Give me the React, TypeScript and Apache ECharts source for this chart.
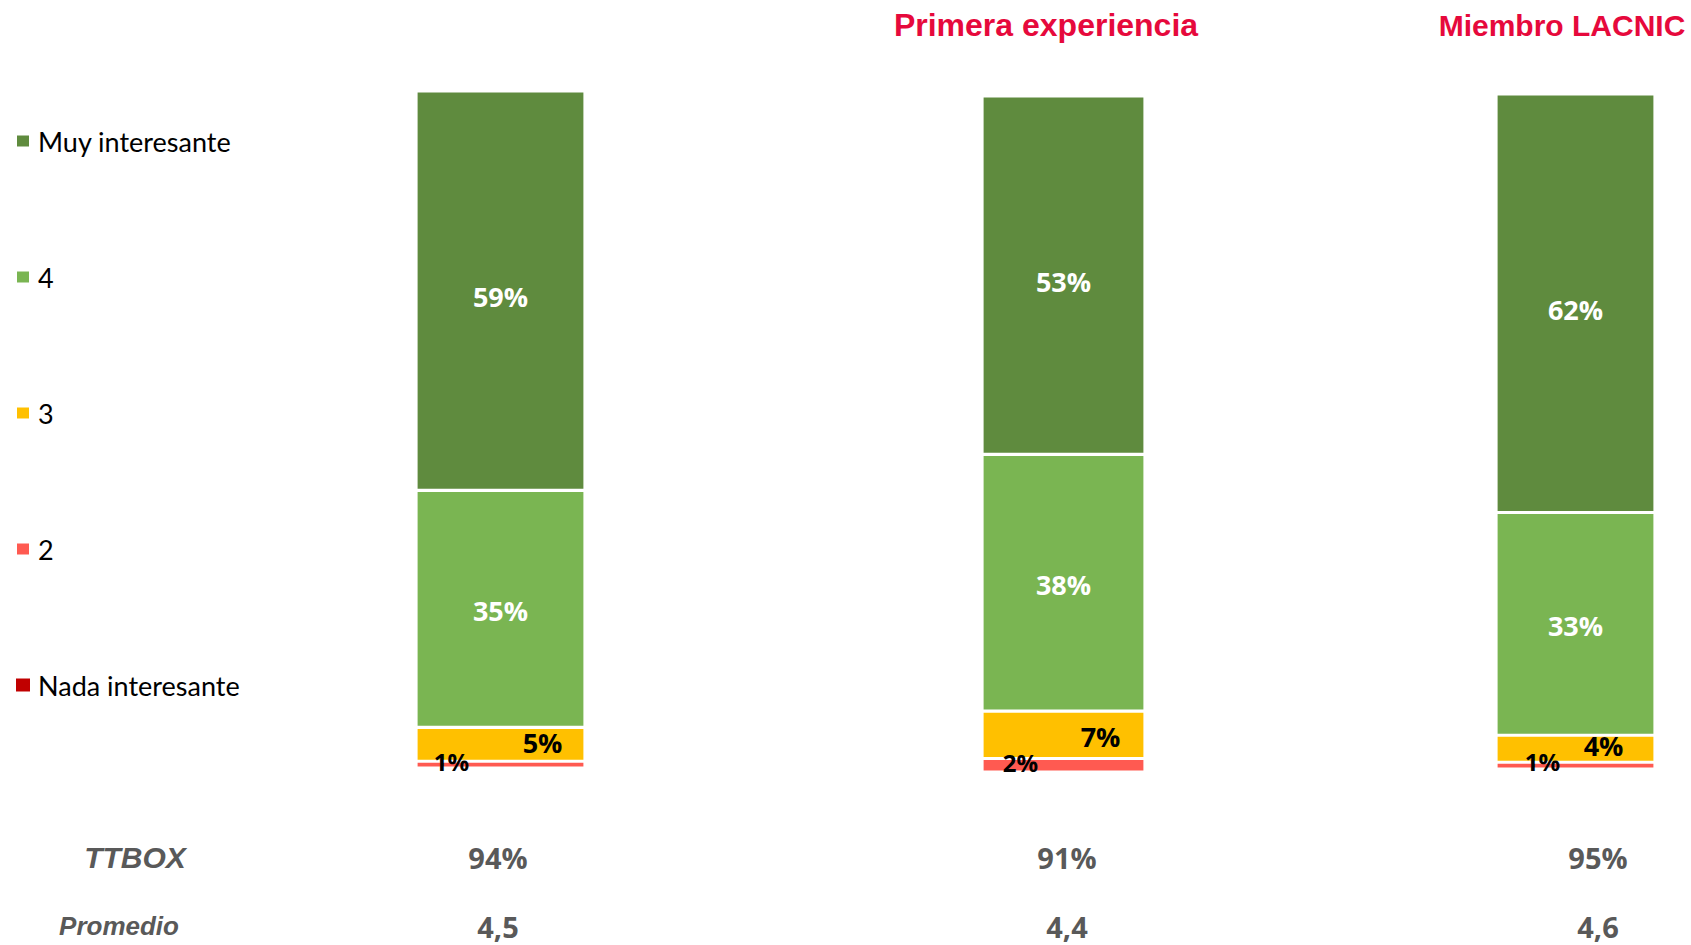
import React, { useEffect, useRef } from "react";
import * as echarts from "echarts";

const groups = ["Total", "Primera experiencia", "Miembro LACNIC"];
const groupTitles = ["", "Primera experiencia", "Miembro LACNIC"];
const seriesNames = ["Nada interesante", "2", "3", "4", "Muy interesante"];
const nada = [0, 0, 0];
const dos = [1, 2, 1];
const tres = [5, 7, 4];
const cuatro = [35, 38, 33];
const muy = [59, 53, 62];
const ttbox = ["94%", "91%", "95%"];
const promedio = ["4,5", "4,4", "4,6"];
const rowLabels = ["TTBOX", "Promedio"];

const colors = ["#C00000", "#FF5A51", "#FFC000", "#7AB552", "#5F8B3E"];

// layout (pixels)
const grids = [
  { left: 416, width: 169, top: 91, height: 677 },
  { left: 982, width: 163, top: 96, height: 676 },
  { left: 1496, width: 159, top: 94, height: 675 },
];
const yellowOffsets = [[42, -2], [37, 2], [28, -3]];
const redOffsets = [[-49, -3], [-43, -3], [-33, -4]];
const titleX = [0, 1046, 1562];
const titleSize = [0, 32, 30];
const valueX = [498, 1067, 1598];

export default function App() {
  const ref = useRef<HTMLDivElement>(null);
  useEffect(() => {
    if (!ref.current) return;
    const chart = echarts.init(ref.current, null, { renderer: "svg" });
    const allData = [nada, dos, tres, cuatro, muy];
    const series: any[] = [];
    groups.forEach((g, gi) => {
      allData.forEach((arr, si) => {
        let label: any = { show: false };
        if (si === 4 || si === 3) {
          label = {
            show: true,
            position: "inside",
            formatter: "{c}%",
            color: "#FFFFFF",
            fontFamily: "Open Sans",
            fontWeight: "bold",
            fontSize: 27,
            offset: si === 4 ? [0, 6] : [0, 2],
          };
        } else if (si === 2) {
          label = {
            show: true,
            position: "inside",
            formatter: "{c}%",
            color: "#000000",
            fontFamily: "Open Sans",
            fontWeight: "bold",
            fontSize: 27,
            offset: yellowOffsets[gi],
          };
        } else if (si === 1) {
          label = {
            show: true,
            position: "inside",
            formatter: "{c}%",
            color: "#000000",
            fontFamily: "Open Sans",
            fontWeight: "bold",
            fontSize: 24,
            offset: redOffsets[gi],
          };
        }
        series.push({
          type: "bar",
          name: seriesNames[si],
          xAxisIndex: gi,
          yAxisIndex: gi,
          stack: "g" + gi,
          barWidth: "100%",
          data: [arr[gi]],
          itemStyle: {
            color: colors[si],
            borderColor: "#FFFFFF",
            borderWidth: si === 0 ? 0 : 1.6,
          },
          label,
          emphasis: { disabled: true },
        });
      });
    });

    const graphics: any[] = [];
    groupTitles.forEach((t, i) => {
      if (!t) return;
      graphics.push({
        type: "text",
        x: titleX[i],
        y: 25,
        style: {
          text: t,
          fill: "#E6093C",
          font: "bold " + titleSize[i] + "px 'Liberation Sans'",
          align: "center",
          verticalAlign: "middle",
        },
      });
    });
    const rowY = [857, 926];
    const rowX = [135, 119];
    const rowSize = [30, 26];
    rowLabels.forEach((t, i) => {
      graphics.push({
        type: "text",
        x: rowX[i],
        y: rowY[i],
        style: {
          text: t,
          fill: "#595959",
          font: "italic bold " + rowSize[i] + "px 'Liberation Sans'",
          align: "center",
          verticalAlign: "middle",
        },
      });
    });
    [ttbox, promedio].forEach((arr, ri) => {
      arr.forEach((v, i) => {
        graphics.push({
          type: "text",
          x: valueX[i],
          y: rowY[ri],
          style: {
            text: v,
            fill: "#595959",
            font: "bold 29px 'Open Sans'",
            align: "center",
            verticalAlign: "middle",
          },
        });
      });
    });

    chart.setOption({
      animation: false,
      legend: {
        orient: "vertical",
        left: 15,
        top: 126,
        padding: 0,
        data: ["Muy interesante", "4", "3", "2", "Nada interesante"],
        icon: "rect",
        itemWidth: 14,
        itemHeight: 13,
        itemGap: 106,
        selectedMode: false,
        textStyle: {
          fontFamily: "Lato",
          fontSize: 27,
          lineHeight: 30,
          color: "#000000",
          padding: [0, 0, 0, 3],
        },
      },
      grid: grids.map((g) => ({ ...g })),
      xAxis: grids.map((_, i) => ({
        type: "category",
        gridIndex: i,
        data: [groups[i]],
        show: false,
      })),
      yAxis: grids.map((_, i) => ({
        type: "value",
        gridIndex: i,
        min: 0,
        max: 100,
        show: false,
      })),
      series,
      graphic: graphics,
    });
    return () => chart.dispose();
  }, []);
  return (
    <div
      ref={ref}
      style={{ position: "fixed", left: 0, top: 0, width: 1691, height: 945, background: "#FFFFFF" }}
    />
  );
}
